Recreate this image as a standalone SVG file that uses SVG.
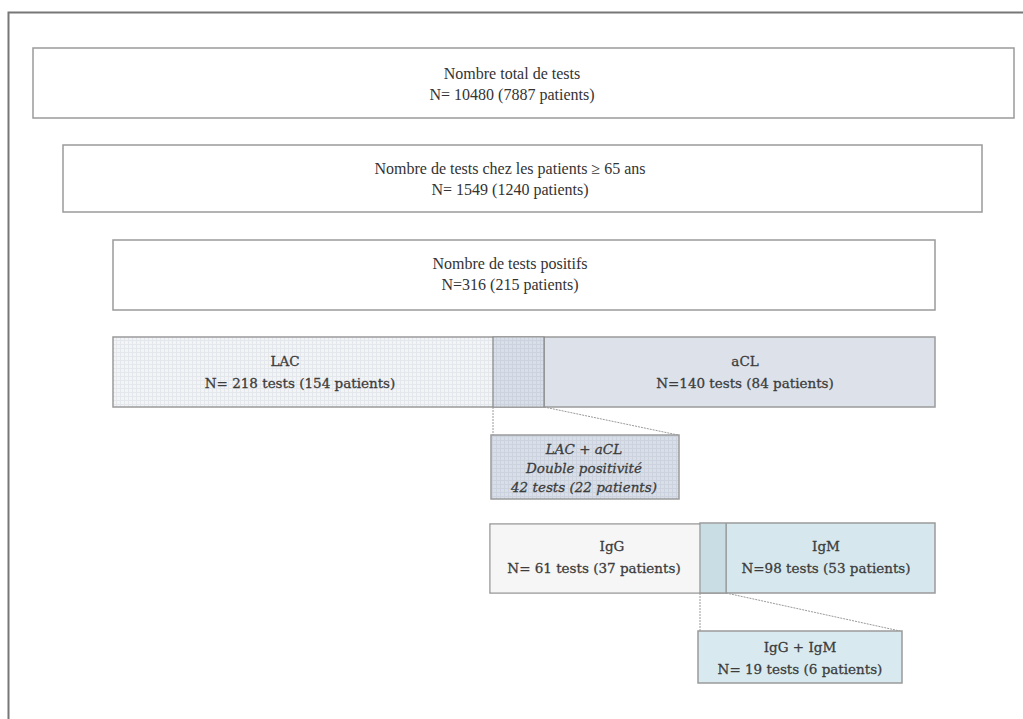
<svg xmlns="http://www.w3.org/2000/svg" width="1023" height="719" viewBox="0 0 1023 719">
<defs>
<pattern id="grid" width="4" height="4" patternUnits="userSpaceOnUse">
<rect width="4" height="4" fill="#f3f4f6"/>
<path d="M0 0.5H4M0.5 0V4" stroke="#e4e7ec" stroke-width="1"/>
</pattern>
<pattern id="gridb" width="4" height="4" patternUnits="userSpaceOnUse">
<rect width="4" height="4" fill="#d9dfe8"/>
<path d="M0 0.5H4M0.5 0V4" stroke="#ccd3de" stroke-width="1"/>
</pattern>
<style>
.box{stroke:#9a9a9a;stroke-width:1.5}
.t{font-family:"Liberation Serif","DejaVu Serif",serif;font-size:16px;fill:#333;text-anchor:middle}
.b{font-family:"DejaVu Serif","Liberation Serif",serif;font-size:13.5px;fill:#3c3c3c;stroke:#3c3c3c;stroke-width:0.3}
.i{font-style:italic}
.con{stroke:#9a9a9a;stroke-width:1;fill:none;stroke-dasharray:2 1}
</style>
</defs>
<rect width="1023" height="719" fill="#fff"/>
<path d="M8.5 719V12.5H1023" fill="none" stroke="#777" stroke-width="2"/>

<g id="total">
<rect class="box" x="33" y="48" width="981" height="70" fill="#fff"/>
<text class="t" x="512" y="79">Nombre total de tests</text>
<text class="t" x="512" y="100">N= 10480 (7887 patients)</text>
</g>

<g id="age65">
<rect class="box" x="63" y="145" width="919" height="67" fill="#fff"/>
<text class="t" x="510" y="174">Nombre de tests chez les patients ≥ 65 ans</text>
<text class="t" x="510" y="195">N= 1549 (1240 patients)</text>
</g>

<g id="positifs">
<rect class="box" x="113" y="240" width="822" height="70" fill="#fff"/>
<text class="t" x="510" y="269">Nombre de tests positifs</text>
<text class="t" x="510" y="290">N=316 (215 patients)</text>
</g>

<g id="aCL">
<rect class="box" x="493" y="337" width="442" height="70" fill="#dde2ea"/>
<text class="t b" x="745" y="366">aCL</text>
<text class="t b" x="745" y="388">N=140 tests (84 patients)</text>
</g>

<g id="LAC">
<rect class="box" x="113" y="337" width="431" height="70" fill="url(#grid)"/>
<rect x="493" y="337.75" width="51" height="68.5" fill="url(#gridb)"/>
<path d="M493 337V407M544 337V407" stroke="#888" stroke-width="1.2"/>
<text class="t b" x="285" y="366">LAC</text>
<text class="t b" x="300" y="388">N= 218 tests (154 patients)</text>
</g>

<g id="IgM">
<rect class="box" x="700" y="523" width="235" height="70" fill="#d6e8ee"/>
<text class="t b" x="826" y="551">IgM</text>
<text class="t b" x="826" y="573">N=98 tests (53 patients)</text>
</g>

<g id="IgG">
<rect class="box" x="490" y="524" width="236" height="69" fill="none"/>
<rect x="490.75" y="524.75" width="209" height="67.5" fill="#f6f6f6"/>
<rect x="700" y="523.75" width="26" height="68.5" fill="#c9dee4"/>
<path d="M700 523V593M726 523V593" stroke="#999" stroke-width="1.2"/>
<text class="t b" x="612" y="551">IgG</text>
<text class="t b" x="594" y="573">N= 61 tests (37 patients)</text>
</g>

<g id="connectors">
<path class="con" d="M493 407V435M544 407L678 435"/>
<path class="con" d="M700 593V631M726 593L900 631"/>
</g>

<g id="LACaCL">
<rect class="box" x="491" y="435" width="188" height="64" fill="url(#gridb)"/>
<text class="t b i" x="584" y="454">LAC + aCL</text>
<text class="t b i" x="584" y="473">Double positivité</text>
<text class="t b i" x="584" y="492">42 tests (22 patients)</text>
</g>

<g id="IgGIgM">
<rect class="box" x="698" y="631" width="204" height="52" fill="#d8eaef"/>
<text class="t b" x="800" y="652">IgG + IgM</text>
<text class="t b" x="800" y="674">N= 19 tests (6 patients)</text>
</g>
</svg>
